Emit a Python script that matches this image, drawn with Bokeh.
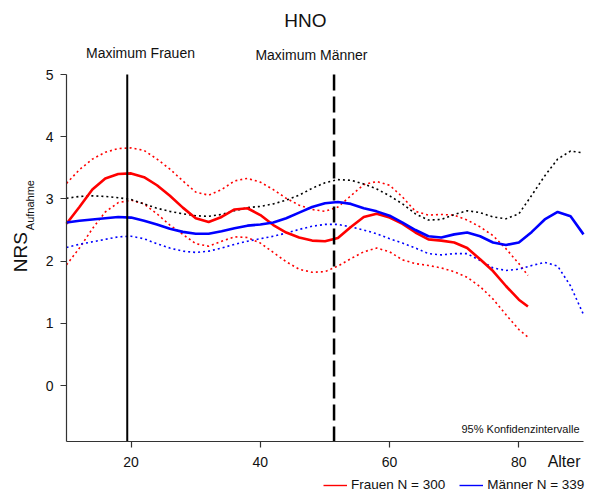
import math
from bokeh.plotting import figure
from bokeh.models import Range1d, FixedTicker, Label, Legend, LegendItem, LinearAxis
from bokeh.embed import file_html
from bokeh.resources import INLINE

# ---------------- data ----------------
age_f = [10, 12, 14, 16, 18, 20, 22, 24, 26, 28, 30, 32, 34, 36, 38, 40, 42, 44, 46, 48,
         50, 52, 54, 56, 58, 60, 62, 64, 66, 68, 70, 72, 74, 76, 78, 80, 81.4]
frauen_mean = [2.60, 2.87, 3.15, 3.33, 3.40, 3.41, 3.35, 3.22, 3.05, 2.86, 2.69, 2.63, 2.71,
               2.83, 2.85, 2.74, 2.58, 2.46, 2.38, 2.33, 2.32, 2.37, 2.55, 2.71, 2.76, 2.70,
               2.60, 2.46, 2.35, 2.33, 2.30, 2.21, 2.03, 1.84, 1.60, 1.38, 1.27]
frauen_upper = [3.25, 3.47, 3.64, 3.75, 3.81, 3.82, 3.78, 3.64, 3.48, 3.29, 3.11, 3.06, 3.15,
                3.29, 3.33, 3.27, 3.15, 3.01, 2.90, 2.83, 2.80, 2.87, 3.05, 3.23, 3.28, 3.22,
                3.03, 2.80, 2.74, 2.75, 2.74, 2.66, 2.55, 2.41, 2.20, 1.96, 1.77]
frauen_lower = [1.94, 2.21, 2.52, 2.79, 2.94, 2.98, 2.92, 2.76, 2.58, 2.43, 2.28, 2.24, 2.32,
                2.39, 2.38, 2.29, 2.14, 1.99, 1.87, 1.82, 1.83, 1.92, 2.04, 2.15, 2.21, 2.15,
                2.02, 1.96, 1.93, 1.89, 1.83, 1.74, 1.59, 1.39, 1.14, 0.90, 0.78]

age_m = [10, 12, 14, 16, 18, 20, 22, 24, 26, 28, 30, 32, 34, 36, 38, 40, 42, 44, 46, 48,
         50, 52, 54, 56, 58, 60, 62, 64, 66, 68, 70, 72, 74, 76, 78, 80, 82, 84, 86, 88, 90]
maenner_mean = [2.62, 2.65, 2.67, 2.69, 2.71, 2.70, 2.65, 2.59, 2.52, 2.47, 2.44, 2.44, 2.48,
                2.53, 2.57, 2.59, 2.62, 2.69, 2.78, 2.87, 2.93, 2.95, 2.92, 2.85, 2.80, 2.73,
                2.62, 2.50, 2.40, 2.38, 2.43, 2.46, 2.40, 2.30, 2.26, 2.30, 2.47, 2.67, 2.79,
                2.72, 2.43]
maenner_upper = [3.01, 3.04, 3.05, 3.04, 3.02, 2.99, 2.92, 2.85, 2.80, 2.76, 2.73, 2.72, 2.75,
                 2.81, 2.86, 2.88, 2.92, 2.98, 3.06, 3.17, 3.26, 3.31, 3.30, 3.24, 3.16, 3.05,
                 2.92, 2.76, 2.66, 2.67, 2.75, 2.81, 2.78, 2.71, 2.68, 2.76, 3.06, 3.37, 3.64,
                 3.77, 3.74]
maenner_lower = [2.22, 2.27, 2.31, 2.35, 2.39, 2.40, 2.36, 2.28, 2.21, 2.16, 2.14, 2.16, 2.21,
                 2.27, 2.32, 2.36, 2.40, 2.45, 2.51, 2.56, 2.59, 2.59, 2.55, 2.50, 2.44, 2.36,
                 2.29, 2.21, 2.12, 2.10, 2.12, 2.12, 2.01, 1.89, 1.85, 1.87, 1.93, 1.98, 1.92,
                 1.60, 1.14]

max_ages = [19.4, 51.4]          # Maximum Frauen, Maximum Männer

x_min, x_max = 10, 90
y_min, y_max = -0.9, 5
x_ticks = [20, 40, 60, 80]
y_ticks = [0, 1, 2, 3, 4, 5]

title_text = "HNO"
label_max_f = "Maximum Frauen"
label_max_m = "Maximum Männer"
ci_text = "95% Konfidenzintervalle"
x_label = "Alter"
y_label_main = "NRS"
y_label_sub = "Aufnahme"
legend_f = "Frauen N = 300"
legend_m = "Männer N = 339"

FONT = "Liberation Sans"

# ---------------- figure ----------------
# the frame covers the whole canvas; axes are placed inside it at fixed locations
PX_X = 6.4625   # pixels per year
PX_Y = 62.2     # pixels per NRS unit
xr = Range1d(x_min - 66 / PX_X, x_min - 66 / PX_X + 592 / PX_X)
yr = Range1d(y_min - 53 / PX_Y, y_min - 53 / PX_Y + 494 / PX_Y)

p = figure(width=592, height=494, output_backend="svg", toolbar_location=None,
           x_range=xr, y_range=yr, x_axis_location=None, y_axis_location=None,
           min_border_left=0, min_border_right=0, min_border_top=0, min_border_bottom=0)
p.outline_line_color = None
p.grid.visible = False
p.background_fill_color = "white"
p.border_fill_color = "white"

xaxis = LinearAxis(fixed_location=y_min, bounds=(x_min, x_max), ticker=FixedTicker(ticks=x_ticks))
yaxis = LinearAxis(fixed_location=x_min, bounds=(y_min, y_max), ticker=FixedTicker(ticks=y_ticks))
for ax in (xaxis, yaxis):
    ax.axis_line_color = "#333333"
    ax.axis_line_width = 1.2
    ax.major_tick_line_color = "#333333"
    ax.major_tick_line_width = 1.2
    ax.major_tick_out = 6
    ax.major_tick_in = 0
    ax.minor_tick_line_color = None
    ax.major_label_text_font = FONT
    ax.major_label_text_font_size = "14px"
    ax.major_label_text_color = "#111111"
xaxis.major_label_standoff = 9
yaxis.major_label_standoff = 7
yaxis.major_label_orientation = "horizontal"
p.add_layout(xaxis, "below")
p.add_layout(yaxis, "left")

# confidence bands (dotted)
p.line(age_f, frauen_upper, line_color="red", line_width=1.6, line_dash="2 3")
p.line(age_f, frauen_lower, line_color="red", line_width=1.6, line_dash="2 3")
p.line(age_m, maenner_upper, line_color="black", line_width=1.6, line_dash="2 3")
p.line(age_m, maenner_lower, line_color="blue", line_width=1.6, line_dash="2 3")

# means
p.line(age_f, frauen_mean, line_color="red", line_width=2.6)
p.line(age_m, maenner_mean, line_color="blue", line_width=2.6)

# maxima
p.segment(x0=[max_ages[0]], y0=[y_min], x1=[max_ages[0]], y1=[y_max],
          line_color="black", line_width=2)
p.segment(x0=[max_ages[1]], y0=[y_max], x1=[max_ages[1]], y1=[y_min],
          line_color="black", line_width=2.5, line_dash="16 6")

# texts
def lab(x, y, text, size, align="center", baseline="middle", angle=0.0):
    p.add_layout(Label(x=x, y=y, x_units="data", y_units="data", text=text,
                       text_font=FONT, text_font_size=size, text_color="#111111",
                       text_align=align, text_baseline=baseline, angle=angle))

lab(46.98, 5.87, title_text, "19px")
lab(21.45, 5.34, label_max_f, "14px")
lab(47.9, 5.31, label_max_m, "14px")
lab(89.38, -0.707, ci_text, "11px", align="right")
lab(89.54, -1.222, x_label, "16px", align="right")
lab(2.88, 1.821, y_label_main, "19px", align="left", angle=math.pi / 2)
lab(4.35, 2.497, y_label_sub, "11px", align="left", angle=math.pi / 2)

# legend: thin sample lines (renderers with no drawable data)
r_f = p.line(x=[x_min, x_min], y=[y_min, y_min], color="#ff0000", line_width=1.4)
r_m = p.line(x=[x_min, x_min], y=[y_min, y_min], color="#0000ff", line_width=1.4)
legend = Legend(items=[LegendItem(label=legend_f, renderers=[r_f]),
                       LegendItem(label=legend_m, renderers=[r_m])],
                orientation="horizontal", location=(323, 2),
                label_text_font=FONT, label_text_font_size="13.5px", label_text_color="#111111",
                glyph_width=24, glyph_height=14, label_standoff=4, spacing=14,
                padding=0, margin=0, border_line_color=None, background_fill_alpha=0)
p.add_layout(legend, "center")

open("out.html", "w").write(file_html(p, INLINE))
